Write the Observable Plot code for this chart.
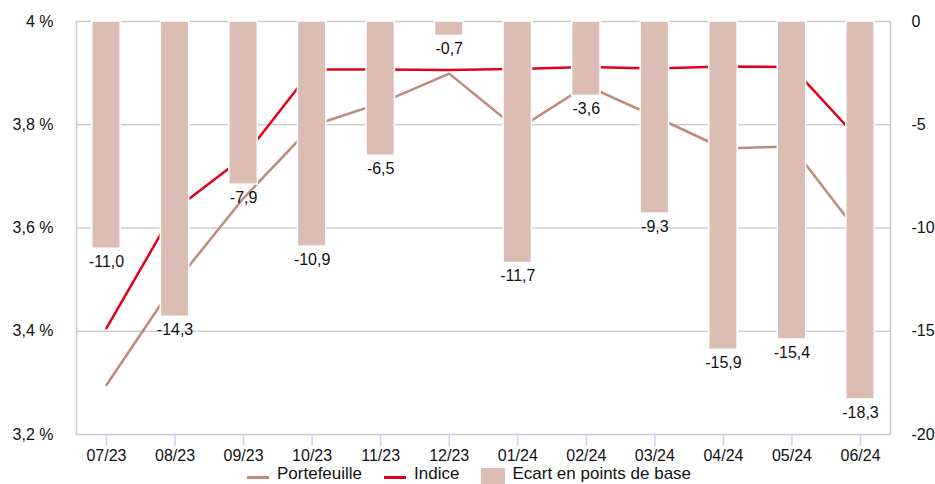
<!DOCTYPE html>
<html lang="fr">
<head>
<meta charset="utf-8">
<script src="https://cdn.jsdelivr.net/npm/d3@7"></script>
<script src="https://cdn.jsdelivr.net/npm/@observablehq/plot@0.6"></script>
<style>
  html, body { margin: 0; padding: 0; background: #fff; }
  #chart { position: relative; width: 935px; height: 484px; overflow: hidden; font-family: "Liberation Sans", Arial, Helvetica, sans-serif; }
  #legend { position: absolute; top: 464px; left: 247px; display: flex; align-items: flex-start; font-size: 17px; line-height: 20px; color: #111; white-space: nowrap; }
  .item { display: flex; align-items: flex-start; margin-right: 22px; }
  .sw-line { width: 22px; height: 3px; margin-top: 12px; margin-right: 8px; }
  .sw-box { width: 24px; height: 20px; margin-top: 4px; margin-right: 7px; }
</style>
</head>
<body>
<div id="chart"></div>
<script>
// Mois de la période
const months = ["07/23", "08/23", "09/23", "10/23", "11/23", "12/23", "01/24", "02/24", "03/24", "04/24", "05/24", "06/24"];
// Rendement (en %) du portefeuille et de l'indice
const portefeuille = [3.296, 3.493, 3.658, 3.798, 3.842, 3.899, 3.791, 3.876, 3.816, 3.754, 3.758, 3.585];
const indice = [3.406, 3.636, 3.737, 3.907, 3.907, 3.906, 3.908, 3.912, 3.909, 3.913, 3.912, 3.768];
// Écart en points de base (axe de droite)
const ecart = [-11.0, -14.3, -7.9, -10.9, -6.5, -0.7, -11.7, -3.6, -9.3, -15.9, -15.4, -18.3];
// Graduations des deux axes
const leftTicks = [3.2, 3.4, 3.6, 3.8, 4];
const rightTicks = [0, -5, -10, -15, -20];

const colors = { portefeuille: "#c1897a", indice: "#e2001a", ecart: "#dcbdb4" };

// L'axe de droite (0 à -20 pb) est superposé à l'axe de gauche (4 % à 3,2 %)
const toLeft = v => 4 + v * (4 - 3.2) / 20;
const fromLeft = y => (y - 4) * 20 / (4 - 3.2);

const fr = d3.formatLocale({ decimal: ",", thousands: " ", grouping: [3], currency: ["", " €"], minus: "-" });
const fmt1 = fr.format(".1f");
const fmtPct = fr.format("~g");
const fmtInt = fr.format("d");

const rows = months.map((m, i) => ({ m, portefeuille: portefeuille[i], indice: indice[i], ecart: ecart[i] }));

const chart = Plot.plot({
  width: 935,
  height: 466,
  marginLeft: 76,
  marginRight: 45,
  marginTop: 21,
  marginBottom: 32,
  style: { fontFamily: "'Liberation Sans', Arial, Helvetica, sans-serif", fontSize: "16px", color: "#111", background: "#fff", overflow: "visible" },
  x: { type: "band", domain: months, paddingInner: 0.585, paddingOuter: 0.23, round: false, axis: null },
  y: { domain: [3.2, 4], axis: null },
  marks: [
    Plot.ruleY(leftTicks.slice(1, -1), { stroke: "#cfcfcf", strokeWidth: 1.5 }),
    Plot.frame({ stroke: "#cbcbcb", strokeWidth: 1.5 }),
    Plot.line(rows, { x: "m", y: "portefeuille", stroke: colors.portefeuille, strokeWidth: 2.5 }),
    Plot.line(rows, { x: "m", y: "indice", stroke: colors.indice, strokeWidth: 2.5 }),
    Plot.barY(rows, { x: "m", y1: () => toLeft(0), y2: d => toLeft(d.ecart), fill: colors.ecart, stroke: "#fff", strokeWidth: 1.5 }),
    Plot.text(rows, { x: "m", y: d => toLeft(d.ecart), text: d => fmt1(d.ecart), dy: 13, fill: "#111", fontSize: 16 }),
    Plot.axisX({ tickSize: 12, tickPadding: 3, stroke: "#c8d3ee", strokeWidth: 1.5, fill: "#111", fontSize: 16, label: null }),
    Plot.axisY(leftTicks, { anchor: "left", tickSize: 0, tickPadding: 23, fontSize: 16, fill: "#111", tickFormat: d => fmtPct(d) + " %", label: null }),
    Plot.axisY(rightTicks.map(toLeft), { anchor: "right", tickSize: 0, tickPadding: 21, fontSize: 16, fill: "#111", tickFormat: d => fmtInt(Math.round(fromLeft(d))), label: null })
  ]
});

const root = document.getElementById("chart");
root.appendChild(chart);

// Légende sous le graphique
const legend = document.createElement("div");
legend.id = "legend";
const entries = [
  { label: "Portefeuille", color: colors.portefeuille, kind: "line" },
  { label: "Indice", color: colors.indice, kind: "line" },
  { label: "Ecart en points de base", color: colors.ecart, kind: "box" }
];
for (const e of entries) {
  const item = document.createElement("div");
  item.className = "item";
  const sw = document.createElement("span");
  sw.className = e.kind === "line" ? "sw-line" : "sw-box";
  sw.style.background = e.color;
  const txt = document.createElement("span");
  txt.textContent = e.label;
  item.appendChild(sw);
  item.appendChild(txt);
  legend.appendChild(item);
}
root.appendChild(legend);
</script>
</body>
</html>
